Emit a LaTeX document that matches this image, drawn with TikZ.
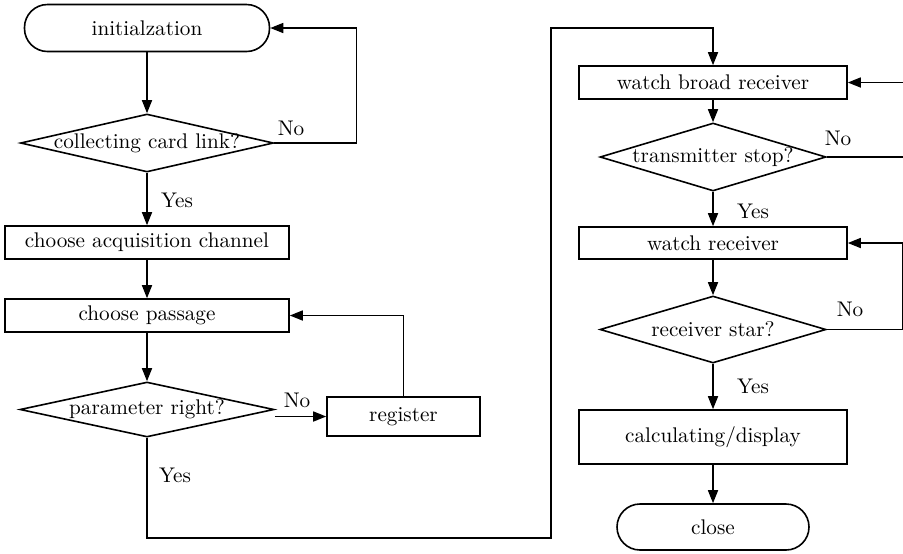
\documentclass[tikz,border=0pt]{standalone}
\usetikzlibrary{shapes.geometric,arrows.meta}
\newcommand{\dtext}[1]{\makebox[0pt]{#1}}
\begin{document}
\begin{tikzpicture}[x=0.5pt,y=-0.5pt,line width=0.8pt,
  every node/.style={font=\fontsize{10.6}{12}\selectfont},
  terminal/.style={draw,rectangle,rounded corners=11.5pt,inner sep=0pt},
  process/.style={draw,rectangle,inner sep=0pt},
  decision/.style={draw,diamond,inner sep=0pt},
  flow/.style={-{Triangle[length=6.5pt,width=5pt]}}]
\useasboundingbox (0,0) rectangle (903,553);
% left column
\node[terminal,minimum width=122.5pt,minimum height=23.5pt] (init) at (147,28) {initialzation};
\node[decision,minimum width=126.5pt,minimum height=29pt] (link) at (147,143) {\dtext{collecting card link?}};
\node[process,minimum width=142pt,minimum height=16.5pt] (chan) at (147,242.5) {choose acquisition channel};
\node[process,minimum width=142pt,minimum height=16.5pt] (pass) at (147,315.5) {choose passage};
\node[decision,minimum width=127pt,minimum height=27.5pt] (param) at (147,409.5) {\dtext{parameter right?}};
\node[process,minimum width=76.5pt,minimum height=19.5pt] (reg) at (403.5,416.5) {register};
% right column
\node[process,minimum width=134pt,minimum height=16.5pt] (wbr) at (713,82.5) {watch broad receiver};
\node[decision,minimum width=113pt,minimum height=34pt] (tstop) at (713,157) {\dtext{transmitter stop?}};
\node[process,minimum width=134pt,minimum height=16pt] (wrec) at (713,243) {watch receiver};
\node[decision,minimum width=113pt,minimum height=33.5pt] (rstar) at (713,329.5) {\dtext{receiver star?}};
\node[process,minimum width=134pt,minimum height=27pt] (calc) at (713,437) {calculating/display};
\node[terminal,minimum width=96pt,minimum height=23pt] (close) at (713,527) {close};
% branch labels
\node (yes1) at (177,200) {Yes};
\node (no1) at (291,128) {No};
\node (no2) at (297,400) {No};
\node (yes2) at (175,475) {Yes};
\node (no3) at (838,138) {No};
\node (yes3) at (753,211) {Yes};
\node (no4) at (850,309) {No};
\node (yes4) at (753,386) {Yes};
% connectors
\coordinate (bus) at (551,538);
\coordinate (bustop) at (551,28);
\draw[flow] (init.south) -- (link.north);
\draw[flow] (link.south) -- (chan.north);
\draw[flow] (link.east) -- ++(82,0) |- (init.east);
\draw[flow] (chan.south) -- (pass.north);
\draw[flow] (pass.south) -- (param.north);
\draw[flow] (param.east |- reg.west) -- (reg.west);
\draw[flow] (reg.north) |- (pass.east);
\draw[flow] (param.south) |- (bus) -- (bustop) -| (wbr.north);
\draw[flow] (wbr.south) -- (tstop.north);
\draw[flow] (tstop.east) -- ++(80,0) |- (wbr.east);
\draw[flow] (tstop.south) -- (wrec.north);
\draw[flow] (wrec.south) -- (rstar.north);
\draw[flow] (rstar.east) -- ++(76,0) |- (wrec.east);
\draw[flow] (rstar.south) -- (calc.north);
\draw[flow] (calc.south) -- (close.north);
\end{tikzpicture}
\end{document}
